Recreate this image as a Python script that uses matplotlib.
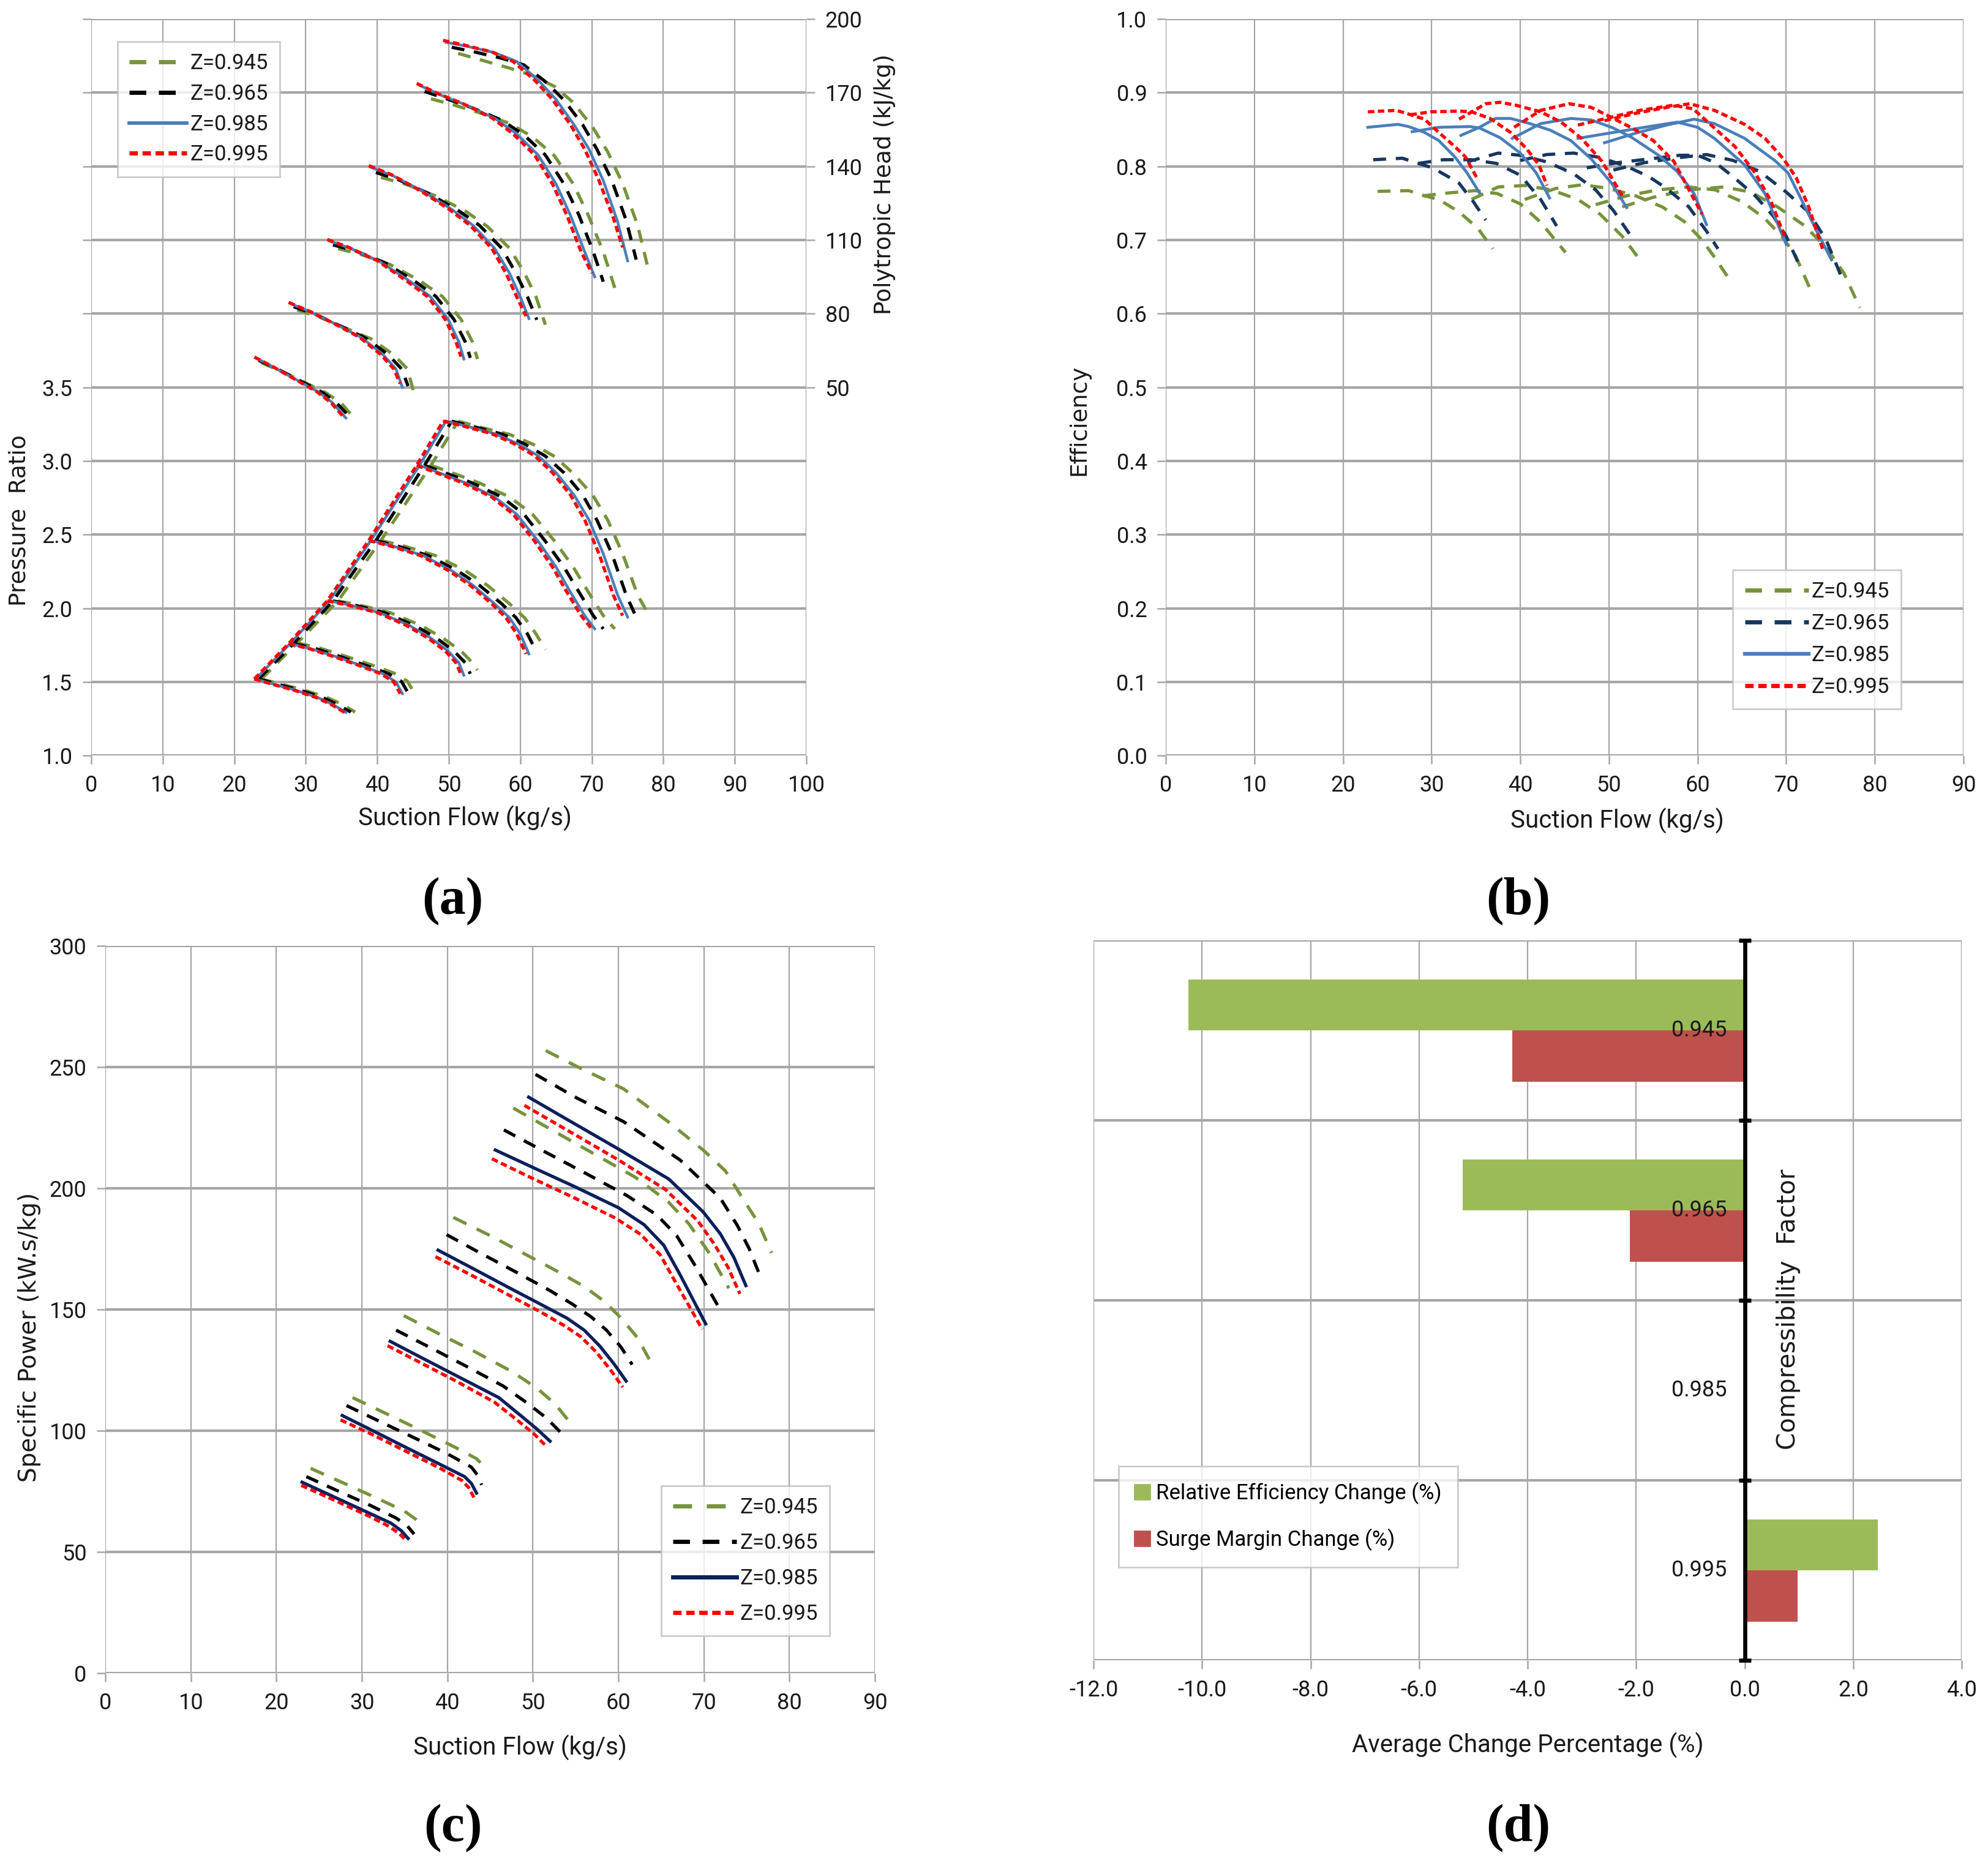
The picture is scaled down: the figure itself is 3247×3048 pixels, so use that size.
import matplotlib
matplotlib.use('Agg')
import matplotlib.pyplot as plt
import matplotlib.font_manager as fm
from matplotlib.ticker import FuncFormatter, FixedLocator
from matplotlib.lines import Line2D
from matplotlib.patches import Patch

NARROW = ['Liberation Sans Narrow', 'Roboto', 'Liberation Sans', 'DejaVu Sans']
WIDE = ['DejaVu Sans']
SERIF = ['Liberation Serif', 'DejaVu Serif']

z_labels = ['Z=0.945', 'Z=0.965', 'Z=0.985', 'Z=0.995']

# ---------------- Panel (a): pressure ratio & polytropic head ----------------
a_flow_945 = [[23.8, 26.5, 29.7, 32.9, 35.0, 36.9],
              [28.8, 31.9, 35.5, 39.2, 42.3, 44.2, 45.1],
              [34.5, 37.6, 41.8, 46.0, 49.1, 51.7, 53.3, 54.0],
              [40.5, 43.9, 48.1, 52.3, 55.4, 58.5, 60.6, 62.2, 63.5],
              [47.5, 50.7, 54.3, 58.5, 61.7, 64.8, 67.4, 69.5, 71.6, 73.2],
              [51.3, 54.3, 58.5, 61.7, 64.8, 67.4, 70.1, 72.2, 74.3, 76.4, 77.9]]
a_pr_945 = [[1.52, 1.485, 1.445, 1.395, 1.35, 1.295],
            [1.765, 1.73, 1.675, 1.615, 1.56, 1.505, 1.43],
            [2.05, 2.02, 1.97, 1.885, 1.80, 1.71, 1.63, 1.58],
            [2.46, 2.42, 2.358, 2.255, 2.155, 2.03, 1.935, 1.825, 1.72],
            [2.97, 2.915, 2.85, 2.755, 2.638, 2.455, 2.28, 2.11, 1.95, 1.86],
            [3.27, 3.23, 3.18, 3.115, 3.03, 2.915, 2.77, 2.60, 2.37, 2.09, 1.96]]
a_head_945 = [[60.0, 56.6, 52.2, 47.6, 43.4, 37.0],
              [81.5, 78.6, 74.2, 69.6, 63.2, 57.5, 48.0],
              [106.5, 104.2, 100.0, 93.3, 87.0, 77.7, 68.5, 61.5],
              [135.5, 132.8, 128.0, 121.8, 115.5, 106.6, 96.4, 86.8, 75.5],
              [167.5, 165.0, 161.8, 157.5, 152.0, 144.2, 132.8, 120.1, 105.2, 90.5],
              [186.0, 183.5, 180.0, 177.0, 172.5, 166.0, 156.0, 146.0, 133.0, 116.0, 98.0]]

a_flow_965 = [[23.4, 26.0, 29.1, 32.3, 34.3, 36.3],
              [28.3, 31.3, 34.8, 38.4, 41.5, 43.4, 44.3],
              [33.8, 36.9, 41.0, 45.1, 48.2, 50.7, 52.3, 53.0],
              [39.8, 43.0, 47.1, 51.2, 54.3, 57.4, 59.4, 61.0, 62.3],
              [46.6, 49.7, 53.3, 57.4, 60.5, 63.5, 66.1, 68.2, 70.2, 71.6],
              [50.4, 53.3, 57.4, 60.5, 63.5, 66.1, 68.7, 70.7, 72.8, 74.8, 76.2]]
a_pr_965 = [[1.52, 1.485, 1.445, 1.395, 1.35, 1.295],
            [1.76, 1.727, 1.672, 1.612, 1.557, 1.502, 1.425],
            [2.05, 2.02, 1.97, 1.885, 1.80, 1.71, 1.63, 1.555],
            [2.46, 2.42, 2.358, 2.255, 2.155, 2.03, 1.935, 1.825, 1.70],
            [2.97, 2.915, 2.85, 2.755, 2.638, 2.455, 2.28, 2.11, 1.95, 1.86],
            [3.27, 3.235, 3.183, 3.118, 3.033, 2.92, 2.77, 2.60, 2.37, 2.09, 1.94]]
a_head_965 = [[61.0, 57.5, 52.8, 48.0, 43.6, 37.5],
              [82.8, 79.8, 75.0, 70.0, 63.3, 57.5, 50.5],
              [108.0, 105.6, 100.8, 93.5, 87.0, 77.7, 68.5, 62.0],
              [137.5, 134.5, 129.0, 122.3, 115.9, 106.6, 96.4, 86.8, 77.5],
              [170.5, 167.5, 163.8, 158.8, 152.8, 144.6, 132.8, 120.1, 105.2, 93.0],
              [188.5, 186.8, 184.0, 181.3, 174.5, 167.0, 157.0, 147.0, 134.2, 118.0, 102.0]]

a_flow_985 = [[23.0, 25.6, 28.6, 31.7, 33.7, 35.6],
              [27.8, 30.7, 34.3, 37.8, 40.8, 42.6, 43.5],
              [33.3, 36.3, 40.3, 44.4, 47.4, 49.9, 51.4, 52.1],
              [39.1, 42.3, 46.4, 50.4, 53.4, 56.4, 58.5, 60.0, 61.2],
              [45.9, 48.9, 52.4, 56.4, 59.5, 62.5, 65.0, 67.0, 69.0, 70.4],
              [49.6, 52.4, 56.4, 59.5, 62.5, 65.0, 67.5, 69.6, 71.6, 73.6, 75.0]]
a_pr_985 = [[1.52, 1.483, 1.443, 1.393, 1.348, 1.293],
            [1.76, 1.725, 1.67, 1.61, 1.555, 1.50, 1.42],
            [2.05, 2.02, 1.97, 1.885, 1.80, 1.71, 1.63, 1.545],
            [2.46, 2.42, 2.358, 2.255, 2.155, 2.03, 1.935, 1.825, 1.69],
            [2.97, 2.915, 2.85, 2.755, 2.638, 2.455, 2.28, 2.11, 1.95, 1.86],
            [3.27, 3.237, 3.185, 3.12, 3.035, 2.92, 2.77, 2.60, 2.37, 2.09, 1.94]]
a_head_985 = [[62.0, 58.0, 53.2, 48.2, 43.8, 37.5],
              [84.2, 80.6, 75.6, 70.2, 63.3, 57.5, 50.0],
              [109.6, 106.5, 101.3, 93.5, 87.0, 77.7, 68.5, 61.5],
              [139.6, 136.0, 129.8, 122.5, 115.9, 106.6, 96.4, 86.8, 78.0],
              [173.0, 169.0, 165.0, 159.6, 153.2, 144.6, 132.8, 120.1, 105.2, 95.0],
              [190.5, 189.0, 186.3, 182.7, 175.1, 167.2, 157.0, 147.0, 134.2, 117.5, 101.5]]

a_flow_995 = [[22.8, 25.4, 28.4, 31.5, 33.5, 35.4],
              [27.6, 30.5, 34.0, 37.5, 40.5, 42.3, 43.2],
              [33.0, 36.0, 40.0, 44.0, 47.0, 49.5, 51.0, 51.7],
              [38.8, 42.0, 46.0, 50.0, 53.0, 56.0, 58.0, 59.5, 60.8],
              [45.5, 48.5, 52.0, 56.0, 59.0, 62.0, 64.5, 66.5, 68.5, 70.0],
              [49.2, 52.0, 56.0, 59.0, 62.0, 64.5, 67.0, 69.0, 71.0, 73.0, 74.3]]
a_pr_995 = [[1.52, 1.483, 1.443, 1.393, 1.348, 1.293],
            [1.76, 1.725, 1.67, 1.61, 1.555, 1.50, 1.42],
            [2.05, 2.02, 1.97, 1.885, 1.80, 1.71, 1.63, 1.55],
            [2.46, 2.42, 2.358, 2.255, 2.155, 2.03, 1.935, 1.825, 1.69],
            [2.97, 2.915, 2.85, 2.755, 2.638, 2.455, 2.28, 2.11, 1.95, 1.86],
            [3.27, 3.237, 3.185, 3.12, 3.035, 2.92, 2.77, 2.60, 2.37, 2.09, 1.95]]
a_head_995 = [[62.3, 58.4, 53.4, 48.3, 43.8, 37.5],
              [84.6, 81.0, 75.9, 70.4, 63.3, 57.5, 51.5],
              [110.2, 107.0, 101.6, 93.5, 87.0, 77.7, 68.5, 62.5],
              [140.3, 136.6, 130.1, 122.6, 115.9, 106.6, 96.4, 86.8, 79.0],
              [173.8, 169.6, 165.5, 159.8, 153.2, 144.6, 132.8, 120.1, 105.2, 96.5],
              [191.3, 189.5, 186.6, 182.7, 175.1, 167.2, 157.0, 147.0, 134.2, 119.0, 107.0]]

# ---------------- Panel (b): efficiency ----------------
b_flow_945 = [[23.9, 27.4, 29.2, 30.8, 33.1, 35.2, 36.9],
              [29.0, 32.0, 34.9, 37.4, 40.0, 42.3, 45.1],
              [34.5, 37.5, 40.5, 43.5, 46.5, 49.0, 51.5, 53.8],
              [40.5, 44.0, 47.0, 50.0, 53.0, 56.0, 58.5, 60.5, 62.0, 63.5],
              [48.5, 52.0, 55.5, 59.0, 62.0, 65.0, 67.5, 69.5, 71.0, 73.0],
              [51.5, 55.0, 59.0, 63.0, 66.0, 69.0, 72.0, 74.5, 76.5, 78.3]]
b_eff_945 = [[0.766, 0.767, 0.760, 0.755, 0.738, 0.716, 0.688],
             [0.760, 0.764, 0.767, 0.763, 0.749, 0.724, 0.683],
             [0.755, 0.772, 0.774, 0.768, 0.755, 0.735, 0.705, 0.668],
             [0.755, 0.770, 0.775, 0.770, 0.760, 0.745, 0.725, 0.700, 0.675, 0.648],
             [0.748, 0.760, 0.768, 0.772, 0.768, 0.752, 0.730, 0.705, 0.680, 0.625],
             [0.745, 0.758, 0.768, 0.772, 0.765, 0.745, 0.720, 0.690, 0.655, 0.608]]

b_flow_965 = [[23.4, 26.7, 28.5, 30.1, 32.0, 33.1, 34.7, 36.1],
              [28.5, 31.3, 34.5, 37.3, 40.0, 42.3, 44.1],
              [34.0, 37.5, 40.0, 43.0, 46.0, 48.5, 50.5, 52.5],
              [40.0, 43.0, 46.0, 49.0, 52.0, 54.5, 56.5, 59.0, 61.0, 62.3],
              [47.5, 51.0, 54.5, 58.0, 60.0, 62.0, 64.0, 66.5, 68.5, 70.0, 71.5],
              [50.5, 54.0, 58.0, 61.0, 64.0, 67.0, 70.0, 72.5, 74.5, 76.5]]
b_eff_965 = [[0.809, 0.811, 0.804, 0.798, 0.785, 0.777, 0.752, 0.727],
             [0.804, 0.809, 0.809, 0.804, 0.788, 0.755, 0.719],
             [0.806, 0.818, 0.815, 0.806, 0.790, 0.768, 0.740, 0.705],
             [0.808, 0.816, 0.818, 0.812, 0.800, 0.786, 0.770, 0.745, 0.712, 0.688],
             [0.798, 0.805, 0.810, 0.815, 0.815, 0.805, 0.786, 0.760, 0.733, 0.705, 0.665],
             [0.795, 0.805, 0.812, 0.816, 0.808, 0.793, 0.765, 0.738, 0.700, 0.642]]

b_flow_985 = [[22.8, 26.2, 27.4, 29.2, 30.8, 32.6, 34.0, 35.4],
              [27.8, 30.8, 34.3, 35.4, 37.7, 40.0, 41.8, 43.3],
              [33.3, 35.4, 37.2, 38.9, 41.1, 43.4, 45.7, 48.0, 50.3, 52.0],
              [39.1, 42.3, 45.7, 48.0, 50.5, 52.6, 55.6, 57.7, 59.6, 61.0],
              [46.5, 50.0, 54.0, 57.7, 60.0, 61.9, 65.3, 67.6, 70.0],
              [49.5, 53.0, 56.5, 59.6, 61.9, 65.3, 68.8, 70.2, 71.5, 73.4, 75.1]]
b_eff_985 = [[0.853, 0.857, 0.854, 0.846, 0.835, 0.813, 0.791, 0.764],
             [0.847, 0.853, 0.854, 0.852, 0.839, 0.818, 0.791, 0.757],
             [0.842, 0.853, 0.865, 0.865, 0.858, 0.849, 0.835, 0.810, 0.777, 0.744],
             [0.838, 0.858, 0.865, 0.863, 0.852, 0.839, 0.815, 0.793, 0.763, 0.721],
             [0.838, 0.845, 0.853, 0.860, 0.853, 0.838, 0.802, 0.763, 0.694],
             [0.832, 0.845, 0.856, 0.864, 0.858, 0.838, 0.807, 0.791, 0.760, 0.713, 0.673]]

b_flow_995 = [[22.8, 26.0, 27.4, 29.2, 30.8, 32.6, 33.8, 35.2],
              [27.6, 29.9, 33.1, 34.5, 36.6, 38.9, 40.7, 42.1, 43.0],
              [33.1, 36.1, 37.7, 39.5, 42.3, 44.6, 46.9, 49.2, 51.5],
              [39.3, 42.3, 45.5, 48.0, 50.0, 52.6, 55.0, 57.3, 58.9, 60.5],
              [46.5, 50.0, 53.5, 57.3, 59.5, 61.9, 64.2, 66.5, 68.3, 69.9],
              [49.5, 53.0, 56.5, 59.1, 61.9, 65.3, 67.6, 69.7, 71.1, 72.5, 74.1]]
b_eff_995 = [[0.874, 0.876, 0.871, 0.864, 0.846, 0.827, 0.813, 0.782],
             [0.870, 0.874, 0.875, 0.874, 0.865, 0.846, 0.824, 0.802, 0.774],
             [0.864, 0.885, 0.887, 0.883, 0.874, 0.860, 0.838, 0.807, 0.760],
             [0.853, 0.876, 0.885, 0.880, 0.868, 0.852, 0.835, 0.807, 0.771, 0.735],
             [0.856, 0.866, 0.876, 0.883, 0.878, 0.852, 0.827, 0.791, 0.752, 0.702],
             [0.862, 0.872, 0.880, 0.885, 0.876, 0.857, 0.838, 0.810, 0.785, 0.746, 0.688]]

# ---------------- Panel (c): specific power ----------------
c_flow_945 = [[24.0, 28.0, 32.0, 35.0, 36.3, 37.1],
              [28.9, 33.0, 37.0, 41.0, 43.4, 44.1, 44.6],
              [34.9, 39.0, 43.0, 47.5, 50.5, 52.6, 54.3],
              [40.7, 45.0, 49.0, 53.0, 56.0, 58.3, 60.3, 62.2, 63.6],
              [47.7, 52.0, 57.0, 62.0, 65.8, 68.2, 70.6, 72.9],
              [51.5, 55.0, 60.6, 66.0, 70.0, 72.5, 74.5, 76.4, 77.9]]
c_pow_945 = [[84.5, 78.2, 71.8, 66.8, 63.5, 60.8],
             [113.7, 106.8, 100.0, 93.0, 88.5, 86.0, 83.3],
             [147.5, 140.0, 133.0, 124.5, 117.5, 111.0, 103.6],
             [188.0, 180.5, 173.0, 165.5, 159.5, 153.5, 146.5, 138.5, 129.5],
             [233.1, 224.5, 214.5, 204.5, 194.5, 185.5, 173.4, 158.8],
             [256.8, 250.5, 241.0, 227.0, 215.5, 207.2, 196.0, 185.5, 173.4]]

c_flow_965 = [[23.5, 27.0, 31.0, 34.0, 35.3, 36.1],
              [28.2, 32.0, 36.0, 40.0, 42.8, 43.5, 44.0],
              [34.0, 38.0, 42.0, 46.5, 49.3, 51.5, 53.3],
              [39.9, 44.0, 48.0, 52.0, 54.5, 56.8, 58.6, 60.3, 61.6],
              [46.6, 51.0, 56.0, 61.0, 64.5, 66.8, 68.9, 71.8],
              [50.3, 55.0, 60.6, 67.2, 71.9, 73.9, 75.3, 76.5]]
c_pow_965 = [[81.1, 75.5, 69.2, 64.0, 60.8, 57.4],
             [110.4, 104.0, 97.3, 90.5, 85.0, 81.8, 77.7],
             [141.5, 134.3, 127.0, 118.5, 111.5, 105.5, 99.1],
             [180.9, 173.0, 165.5, 157.8, 152.5, 147.0, 141.5, 134.5, 127.3],
             [224.1, 215.8, 206.5, 197.0, 189.0, 180.5, 168.5, 150.5],
             [247.0, 237.5, 227.5, 211.7, 196.0, 184.7, 175.0, 164.4]]

c_flow_985 = [[23.0, 27.0, 31.0, 33.4, 34.6, 35.4],
              [27.7, 31.0, 35.0, 39.0, 42.0, 42.8, 43.4],
              [33.3, 37.0, 41.0, 46.0, 48.7, 50.5, 52.0],
              [38.9, 43.0, 47.0, 51.0, 54.0, 56.0, 57.8, 59.5, 60.9],
              [45.6, 50.0, 55.0, 60.0, 63.0, 65.3, 67.2, 70.2],
              [49.5, 54.0, 60.0, 65.9, 69.9, 71.9, 73.5, 74.9]]
c_pow_985 = [[78.8, 72.3, 65.8, 61.9, 58.8, 55.6],
             [106.3, 100.5, 93.4, 86.4, 81.1, 78.3, 74.3],
             [136.9, 130.1, 122.8, 113.7, 105.9, 100.6, 95.7],
             [174.5, 166.9, 159.4, 152.0, 146.4, 141.5, 135.0, 127.5, 120.5],
             [215.8, 208.6, 200.5, 192.0, 185.0, 176.5, 164.4, 144.1],
             [237.6, 228.4, 216.2, 203.8, 190.3, 181.3, 171.5, 159.9]]

c_flow_995 = [[22.9, 27.0, 31.0, 33.2, 34.4, 35.1],
              [27.5, 31.0, 35.0, 39.0, 41.7, 42.5, 43.1],
              [33.0, 37.0, 41.0, 45.5, 48.3, 50.1, 51.6],
              [38.6, 43.0, 47.0, 51.0, 53.6, 55.6, 57.4, 59.1, 60.5],
              [45.2, 50.0, 55.0, 59.6, 62.6, 64.9, 66.8, 69.8],
              [49.0, 54.0, 60.0, 65.5, 69.3, 71.2, 72.8, 74.2]]
c_pow_995 = [[77.5, 71.0, 64.5, 60.5, 57.5, 55.0],
             [104.5, 98.8, 91.8, 84.8, 79.5, 76.5, 72.5],
             [135.1, 127.8, 120.5, 111.8, 104.0, 98.8, 93.5],
             [171.8, 163.8, 156.3, 148.8, 143.5, 138.8, 132.5, 125.0, 118.0],
             [212.2, 204.0, 195.8, 187.8, 181.0, 172.5, 160.5, 141.9],
             [234.2, 224.0, 211.7, 199.5, 186.5, 177.0, 167.5, 156.5]]

# ---------------- Panel (d): average change ----------------
d_categories = ['0.945', '0.965', '0.985', '0.995']
d_eff_change = [-10.25, -5.2, 0.0, 2.45]
d_surge_change = [-4.28, -2.12, 0.0, 0.97]

# ---------------- Styles ----------------
GRID_C = '#A6A6A6'
TXT_C = '#1A1A1A'
GREEN = '#77933C'
RED = '#FF0000'
BLUE_A = '#4A7EBB'
NAVY_B = '#17375E'
NAVY_C = '#0B1F5C'

style_a = [dict(color=GREEN, lw=1.9, ls=(0, (4, 3))),
           dict(color='black', lw=1.9, ls=(0, (4, 3))),
           dict(color=BLUE_A, lw=1.6, ls='-'),
           dict(color=RED, lw=1.9, ls=(0, (2, 1.1)))]
style_b = [dict(color=GREEN, lw=1.9, ls=(0, (4, 3))),
           dict(color=NAVY_B, lw=1.9, ls=(0, (4, 3))),
           dict(color=BLUE_A, lw=1.7, ls='-'),
           dict(color=RED, lw=1.9, ls=(0, (2, 1.1)))]
style_c = [dict(color=GREEN, lw=1.9, ls=(0, (4.5, 3.5))),
           dict(color='black', lw=1.9, ls=(0, (4, 3))),
           dict(color=NAVY_C, lw=1.9, ls='-'),
           dict(color=RED, lw=1.9, ls=(0, (2, 1.1)))]

fig = plt.figure(figsize=(16.24, 15.24), dpi=200)
fp_tick = fm.FontProperties(family=NARROW, size=13)
fp_lab = fm.FontProperties(family=NARROW, size=14.5)
fp_leg = fm.FontProperties(family=NARROW, size=12.5)
fp_wide = fm.FontProperties(family=WIDE, size=13.5)


def style_axes(ax):
    for s in ax.spines.values():
        s.set_visible(False)
    ax.tick_params(axis='both', direction='out', length=5, width=0.9,
                   color=GRID_C, labelcolor=TXT_C, pad=6)
    for lab in ax.get_xticklabels() + ax.get_yticklabels():
        lab.set_fontproperties(fp_tick)
    ax.set_axisbelow(True)


def draw_grid(ax):
    ax.yaxis.grid(True, color=GRID_C, lw=1.5)
    ax.xaxis.grid(True, color=GRID_C, lw=0.8)


def make_legend(ax, styles, anchor, spacing, hlen=3.0):
    handles = [Line2D([], [], **s) for s in styles]
    for h in handles:
        h.set_linewidth(h.get_linewidth() * 1.3)
    leg = ax.legend(handles, z_labels, loc='upper left', bbox_to_anchor=anchor,
                    prop=fp_leg, frameon=True, fancybox=False, edgecolor='#BFBFBF',
                    handlelength=hlen, handletextpad=0.15, labelspacing=spacing,
                    borderpad=0.55, borderaxespad=0)
    leg.get_frame().set_linewidth(1.0)
    for t in leg.get_texts():
        t.set_color(TXT_C)
    return leg


# ---------------- (a) ----------------
axA = fig.add_axes([0.0459, 0.5951, 0.3596, 0.3947])
axA.set_xlim(0, 100)
axA.set_ylim(1.0, 6.0)
axA.xaxis.set_major_locator(FixedLocator(list(range(0, 101, 10))))
axA.yaxis.set_major_locator(FixedLocator([1.0 + 0.5 * i for i in range(11)]))
axA.yaxis.set_major_formatter(FuncFormatter(lambda v, p: f'{v:.1f}' if v <= 3.51 else ''))
draw_grid(axA)
axA.tick_params(axis='y', right=True)
style_axes(axA)
axA2 = axA.twinx()
axA2.set_ylim(-100, 200)
axA2.yaxis.set_major_locator(FixedLocator([50, 80, 110, 140, 170, 200]))
for s in axA2.spines.values():
    s.set_visible(False)
axA2.tick_params(axis='y', length=5, width=0.9, color=GRID_C, labelcolor=TXT_C, pad=6)
for lab in axA2.get_yticklabels():
    lab.set_fontproperties(fp_tick)

a_sets = [(a_flow_945, a_pr_945, a_head_945), (a_flow_965, a_pr_965, a_head_965),
          (a_flow_985, a_pr_985, a_head_985), (a_flow_995, a_pr_995, a_head_995)]
for (flows, prs, heads), st in zip(a_sets, style_a):
    for f, p in zip(flows, prs):
        axA.plot(f, p, **st)
    axA.plot([f[0] for f in flows], [p[0] for p in prs], **st)
    for f, h in zip(flows, heads):
        axA2.plot(f, h, **st)

axA.set_xlabel('Suction Flow (kg/s)', fontproperties=fp_lab, color=TXT_C)
axA.xaxis.set_label_coords(0.523, -0.068)
axA.set_ylabel('Pressure  Ratio', fontproperties=fp_wide, color=TXT_C)
axA.yaxis.set_label_coords(-0.085, 0.319)
axA2.set_ylabel('Polytropic Head (kJ/kg)', fontproperties=fm.FontProperties(family=WIDE, size=13.5), color=TXT_C)
axA2.yaxis.set_label_coords(1.094, 0.776)
make_legend(axA2, style_a, (0.037, 0.969), 0.48, hlen=2.7)

# ---------------- (b) ----------------
axB = fig.add_axes([0.5862, 0.5951, 0.4012, 0.3947])
axB.set_xlim(0, 90)
axB.set_ylim(0, 1.0)
axB.xaxis.set_major_locator(FixedLocator(list(range(0, 91, 10))))
axB.yaxis.set_major_locator(FixedLocator([0.1 * i for i in range(11)]))
axB.yaxis.set_major_formatter(FuncFormatter(lambda v, p: f'{v:.1f}'))
draw_grid(axB)
style_axes(axB)
b_sets = [(b_flow_945, b_eff_945), (b_flow_965, b_eff_965),
          (b_flow_985, b_eff_985), (b_flow_995, b_eff_995)]
for (flows, effs), st in zip(b_sets, style_b):
    for f, e in zip(flows, effs):
        axB.plot(f, e, **st)
axB.set_xlabel('Suction Flow (kg/s)', fontproperties=fp_lab, color=TXT_C)
axB.xaxis.set_label_coords(0.566, -0.071)
axB.set_ylabel('Efficiency', fontproperties=fp_wide, color=TXT_C)
axB.yaxis.set_label_coords(-0.095, 0.455)
make_legend(axB, style_b, (0.711, 0.252), 0.55)

# ---------------- (c) ----------------
axC = fig.add_axes([0.0530, 0.1033, 0.3870, 0.3898])
axC.set_xlim(0, 90)
axC.set_ylim(0, 300)
axC.xaxis.set_major_locator(FixedLocator(list(range(0, 91, 10))))
axC.yaxis.set_major_locator(FixedLocator(list(range(0, 301, 50))))
draw_grid(axC)
style_axes(axC)
c_sets = [(c_flow_945, c_pow_945), (c_flow_965, c_pow_965),
          (c_flow_985, c_pow_985), (c_flow_995, c_pow_995)]
for (flows, pows), st in zip(c_sets, style_c):
    for f, pw in zip(flows, pows):
        axC.plot(f, pw, **st)
axC.set_xlabel('Suction Flow (kg/s)', fontproperties=fp_lab, color=TXT_C)
axC.xaxis.set_label_coords(0.539, -0.085)
axC.set_ylabel('Specific Power (kW.s/kg)', fontproperties=fm.FontProperties(family=WIDE, size=14), color=TXT_C)
axC.yaxis.set_label_coords(-0.084, 0.462)
make_legend(axC, style_c, (0.722, 0.258), 0.72)

# ---------------- (d) ----------------
axD = fig.add_axes([0.5499, 0.1102, 0.4366, 0.3858])
ypos = list(range(len(d_categories)))
axD.set_xlim(-12, 4)
axD.set_ylim(3.5, -0.5)
axD.xaxis.set_major_locator(FixedLocator([-12, -10, -8, -6, -4, -2, 0, 2, 4]))
axD.xaxis.set_major_formatter(FuncFormatter(lambda v, p: f'{v:.1f}'))
axD.yaxis.set_major_locator(FixedLocator([-0.5, 0.5, 1.5, 2.5, 3.5]))
axD.yaxis.set_major_formatter(FuncFormatter(lambda v, p: ''))
draw_grid(axD)
style_axes(axD)
axD.tick_params(axis='y', length=0)
bh = 0.284
axD.barh([y - bh / 2 for y in ypos], d_eff_change, height=bh, color='#9BBB59',
         label='Relative Efficiency Change (%)', zorder=2)
axD.barh([y + bh / 2 for y in ypos], d_surge_change, height=bh, color='#C0504D',
         label='Surge Margin Change (%)', zorder=2)
axD.axvline(0, color='black', lw=2.4, zorder=3)
axD.plot([0] * 5, [-0.5, 0.5, 1.5, 2.5, 3.5], ls='none', marker='_', ms=7, mew=2.4,
         color='black', zorder=4, clip_on=False)
for y, c in zip(ypos, d_categories):
    axD.text(-0.33, y, c, ha='right', va='center', fontproperties=fp_tick, color=TXT_C, zorder=5)
axD.text(0.8, 1.55, 'Compressibility  Factor', rotation=90, ha='center', va='center',
         fontproperties=fm.FontProperties(family=WIDE, size=14.5), color=TXT_C)
axD.set_xlabel('Average Change Percentage (%)', fontproperties=fp_lab, color=TXT_C)
axD.xaxis.set_label_coords(0.50, -0.10)
legD = axD.legend(handles=[Patch(color='#9BBB59'), Patch(color='#C0504D')],
                  labels=['Relative Efficiency Change (%)', 'Surge Margin Change (%)'],
                  loc='upper left', bbox_to_anchor=(0.029, 0.27), prop=fp_leg,
                  frameon=True, fancybox=False, edgecolor='#BFBFBF',
                  handlelength=0.7, handleheight=0.7, handletextpad=0.3,
                  labelspacing=1.15, borderpad=0.75, borderaxespad=0)
legD.get_frame().set_linewidth(1.0)

# ---------------- panel letters ----------------
fp_letter = fm.FontProperties(family=SERIF, size=31, weight='bold')
for x, y, t in [(0.2277, 0.517, '(a)'), (0.7634, 0.517, '(b)'),
                (0.2277, 0.0204, '(c)'), (0.7634, 0.0204, '(d)')]:
    fig.text(x, y, t, ha='center', va='center', fontproperties=fp_letter, color='black')

fig.savefig('out.png', dpi=200)
